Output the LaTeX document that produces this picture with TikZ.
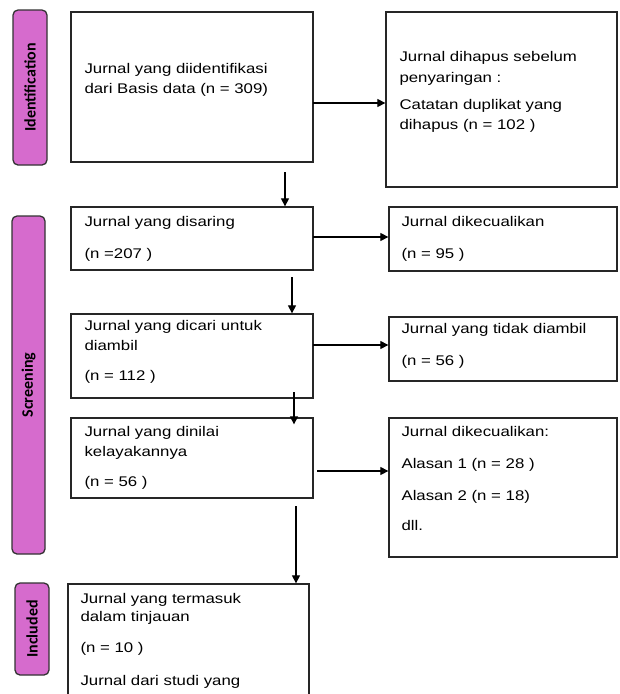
\documentclass[tikz,border=0pt]{standalone}
\usepackage{fontspec}
\setmainfont[FakeStretch=1.2]{Liberation Sans}
\newfontfamily\barfont{Carlito}
\usepackage{pgf,tikz}
\usetikzlibrary{positioning, arrows.meta}
\definecolor{barpink}{RGB}{214,107,205}

\begin{document}
\begin{tikzpicture}[x=1pt, y=-1pt,
	box/.style 2 args={draw=black!85, line width=1.3pt, minimum width=#1, minimum height=#2, inner sep=0pt},
	txt/.style={inner sep=0pt, align=left, font=\fontsize{14}{20}\selectfont},
	bar/.style={draw=black!80, line width=1.3pt, fill=barpink, rounded corners=5pt, rotate=90, inner sep=0pt, font=\barfont\bfseries\fontsize{16}{16}\selectfont},
	arr/.style={-{Triangle[length=8pt, width=8pt]}, line width=1.2pt}]
	\clip (0,0) rectangle (619,694);
	
	% side bars
	\node[bar, minimum width=155pt, minimum height=34pt] (idb) at (30,87.5) {Identification};
	\node[bar, minimum width=338pt, minimum height=33pt] (scb) at (28.5,385) {Screening};
	\node[bar, minimum width=92pt, minimum height=34pt] (inb) at (32,629) {Included};
	
	% boxes
	\node[box={242pt}{150pt}] (id)  at (192,87)    {};
	\node[box={231pt}{175pt}] (rem) at (501.5,99.5) {};
	\node[box={242pt}{63pt}]  (sc)  at (192,238.5) {};
	\node[box={228pt}{64pt}]  (ex1) at (503,239)   {};
	\node[box={242pt}{84pt}]  (so)  at (192,356)   {};
	\node[box={228pt}{64pt}]  (nr)  at (503,349)   {};
	\node[box={242pt}{80pt}]  (as)  at (192,458)   {};
	\node[box={228pt}{139pt}] (ex2) at (503,487.5) {};
	\node[box={241pt}{126pt}] (inc) at (188.5,647) {};
	
	% texts
	\node[txt, below right=52pt and 14pt of id.north west] (idt)
		{Jurnal yang diidentifikasi\\dari Basis data (n = 309)};
	\node[txt, below right=40pt and 14pt of rem.north west] (remt)
		{Jurnal dihapus sebelum\\[1pt]penyaringan :\\[7pt]Catatan duplikat yang\\dihapus (n = 102 )};
	\node[txt, below right=10pt and 14pt of sc.north west] (sct)
		{Jurnal yang disaring\\[12pt](n =207 )};
	\node[txt, below right=10pt and 13pt of ex1.north west] (ex1t)
		{Jurnal dikecualikan\\[12pt](n = 95 )};
	\node[txt, below right=7pt and 14pt of so.north west] (sot)
		{Jurnal yang dicari untuk\\diambil\\[10pt](n = 112 )};
	\node[txt, below right=7pt and 13pt of nr.north west] (nrt)
		{Jurnal yang tidak diambil\\[12pt](n = 56 )};
	\node[txt, below right=9pt and 14pt of as.north west] (ast)
		{Jurnal yang dinilai\\kelayakannya\\[10pt](n = 56 )};
	\node[txt, below right=9pt and 13pt of ex2.north west] (ex2t)
		{Jurnal dikecualikan:\\[12pt]Alasan 1 (n = 28 )\\[12pt]Alasan 2 (n = 18)\\[10pt]dll.};
	\node[txt, below right=10pt and 13pt of inc.north west] (inct)
		{Jurnal yang termasuk\\[-2pt]dalam tinjauan\\[11pt](n = 10 )\\[13pt]Jurnal dari studi yang};
	
	% arrows
	\coordinate (d1) at (285,172);
	\coordinate (d2) at (292,277);
	\coordinate (d3) at (294,392);
	\coordinate (d4) at (296,506);
	\coordinate (r1) at (313,103);
	\coordinate (r2) at (313,237);
	\coordinate (r3) at (313,345);
	\coordinate (r4) at (317,471);
	\draw[arr] (r1) -- (r1 -| rem.west);
	\draw[arr] (d1) -- (d1 |- sc.north);
	\draw[arr] (r2) -- (r2 -| ex1.west);
	\draw[arr] (d2) -- (d2 |- so.north);
	\draw[arr] (r3) -- (r3 -| nr.west);
	\draw[arr] (d3) -- ([yshift=-7pt]d3 |- as.north);
	\draw[arr] (r4) -- (r4 -| ex2.west);
	\draw[arr] (d4) -- (d4 |- inc.north);
\end{tikzpicture}
\end{document}
